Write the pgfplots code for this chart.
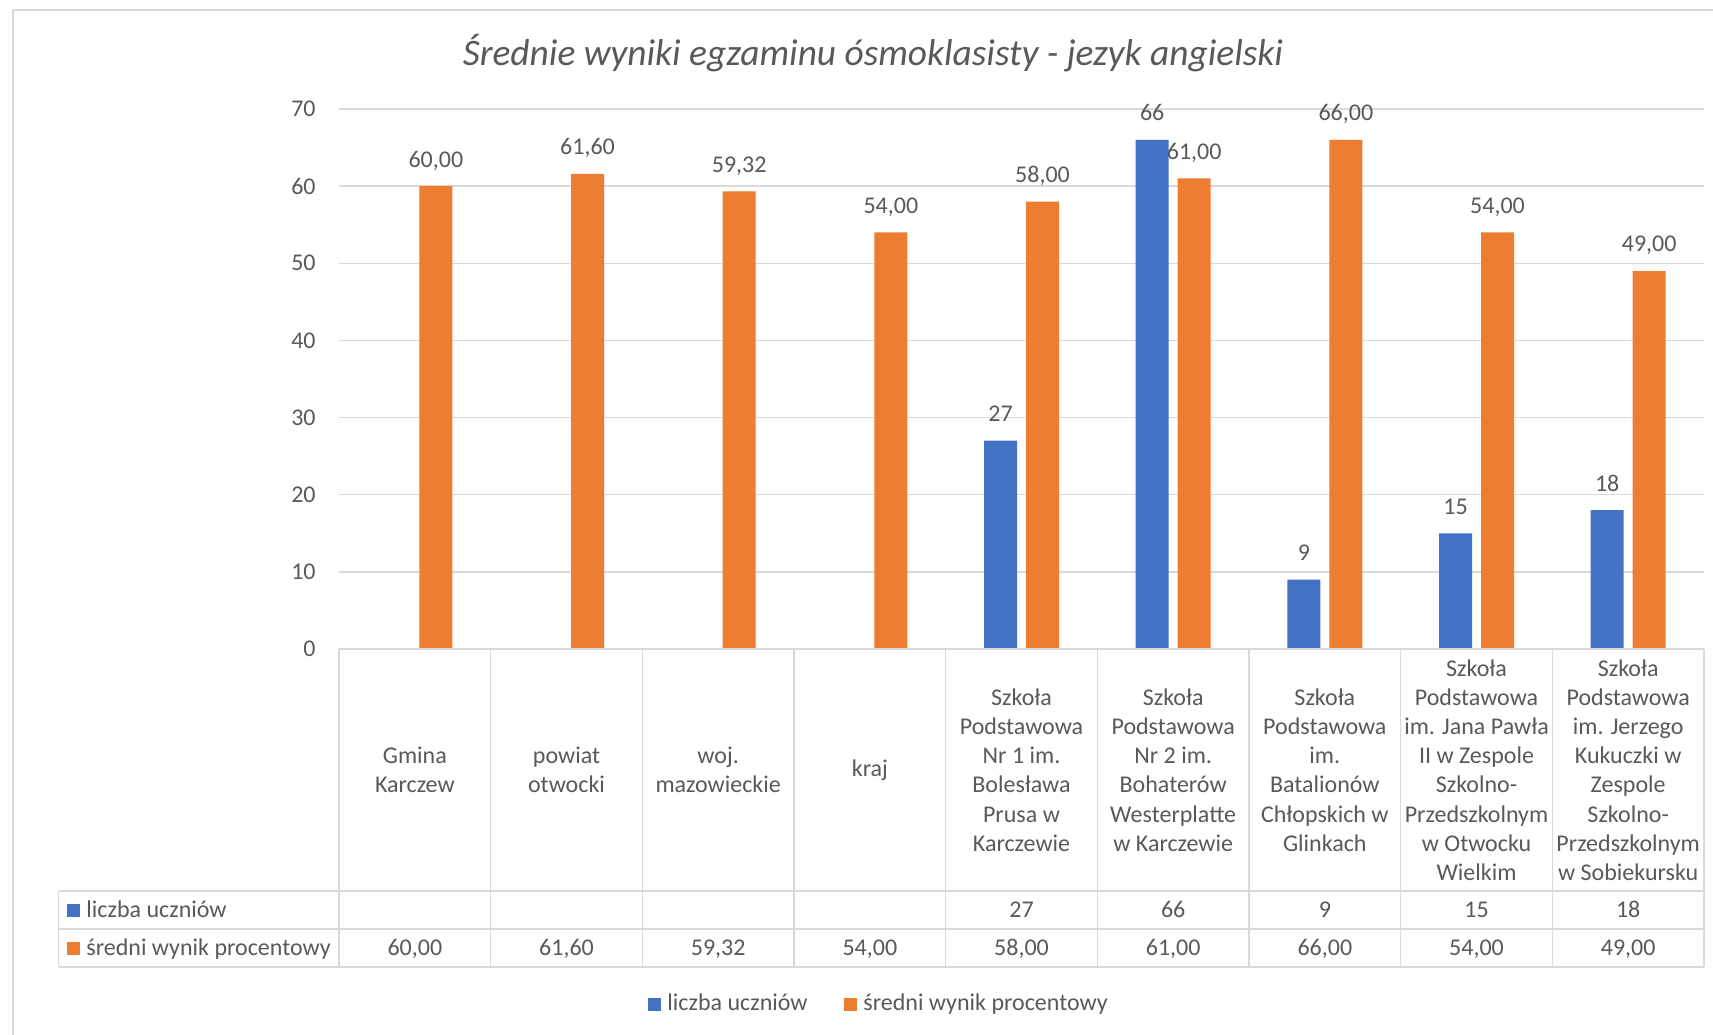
\documentclass[border=0pt]{standalone}
\usepackage{pgfplots}
\pgfplotsset{compat=1.18}
\usepackage{pgfplotstable}
\usepackage{fontspec}
\setmainfont{Carlito}
\definecolor{cblue}{HTML}{4472C4}
\definecolor{corange}{HTML}{ED7D31}
\definecolor{ctext}{HTML}{595959}
\definecolor{cgrid}{HTML}{D9D9D9}
\newcommand{\bodyfont}{\fontsize{12}{14.6}\selectfont}
\pgfplotstableread{
x y
0.5 60
1.5 61.6
2.5 59.32
3.5 54
4.5 58
5.5 61
6.5 66
7.5 54
8.5 49
}\sredni
\pgfplotstableread{
x y
4.5 27
5.5 66
6.5 9
7.5 15
8.5 18
}\liczba
\begin{document}
\begin{tikzpicture}[x=0.5pt,y=0.5pt]
\useasboundingbox (0,0) rectangle (1713,1034);
\fill[white] (0,0) rectangle (1713,1034);
\draw[cgrid,line width=1pt] (12.7,-10) -- (12.7,1023.7) -- (1725,1023.7);
\begin{axis}[
  at={(169.5pt,192.5pt)}, anchor=south west,
  scale only axis, width=682.5pt, height=270pt,
  xmin=0, xmax=9, ymin=0, ymax=70,
  enlargelimits=false, clip=false,
  axis line style={draw=none},
  major tick length=0pt,
  ytick={0,10,...,70},
  ymajorgrids, grid style={cgrid, line width=0.75pt},
  xtick={0.5,1.5,...,8.5},
  xticklabels={{Gmina\\Karczew},{powiat\\otwocki},{woj.\\mazowieckie},{kraj},
    {Szkoła\\Podstawowa\\Nr 1 im.\\Bolesława\\Prusa w\\Karczewie},
    {Szkoła\\Podstawowa\\Nr 2 im.\\Bohaterów\\Westerplatte\\w Karczewie},
    {Szkoła\\Podstawowa\\im.\\Batalionów\\Chłopskich w\\Glinkach},
    {Szkoła\\Podstawowa\\im. Jana Pawła\\II w Zespole\\Szkolno-\\Przedszkolnym\\w Otwocku\\Wielkim},
    {Szkoła\\Podstawowa\\im. Jerzego\\Kukuczki w\\Zespole\\Szkolno-\\Przedszkolnym\\w Sobiekursku}},
  tick label style={font=\bodyfont, text=ctext},
  yticklabel style={anchor=east, inner sep=0pt, xshift=-11.5pt},
  xticklabel style={anchor=center, align=center, inner sep=0pt, yshift=-60.5pt},
  /pgf/number format/assume math mode=true,
  ybar, bar width=16.5pt,
  every node near coord/.append style={font=\bodyfont, text=ctext, anchor=base, yshift=9.5pt, inner sep=0pt},
]
\addplot[draw=none, fill=cblue, bar shift=-10.5pt,
  nodes near coords={\pgfmathprintnumber[assume math mode=true]{\pgfplotspointmeta}}]
  table[x=x,y=y] {\liczba};
\addplot[draw=none, fill=corange, bar shift=10.5pt,
  nodes near coords={\pgfmathprintnumber[fixed,fixed zerofill,precision=2,use comma,assume math mode=true]{\pgfplotspointmeta}}]
  table[x=x,y=y] {\sredni};
\end{axis}
% data table grid
\begin{scope}[cgrid, line width=0.75pt]
\draw (339,1034-649) -- (1704,1034-649);
\foreach \yy in {891,929,967} \draw (58.6,1034-\yy) -- (1704,1034-\yy);
\draw (58.6,1034-891) -- (58.6,1034-967);
\foreach \i in {0,...,9} \draw ({339+\i*151.667},1034-649) -- ({339+\i*151.667},1034-967);
\end{scope}
% row headers
\fill[cblue] (67,1034-916.5) rectangle (80,1034-903.5);
\node[anchor=base west, inner sep=0pt, font=\bodyfont, text=ctext] at (86,1034-917.5) {liczba uczniów};
\fill[corange] (67,1034-954.5) rectangle (80,1034-941.5);
\node[anchor=base west, inner sep=0pt, font=\bodyfont, text=ctext] at (86,1034-955) {średni wynik procentowy};
% table values
\foreach \i/\v in {4/27,5/66,6/9,7/15,8/18}
  \node[anchor=base, inner sep=0pt, font=\bodyfont, text=ctext] at ({339+(\i+0.5)*151.667},1034-917.5) {\v};
\foreach \i/\v in {0/60,1/61.6,2/59.32,3/54,4/58,5/61,6/66,7/54,8/49}
  \node[anchor=base, inner sep=0pt, font=\bodyfont, text=ctext] at ({339+(\i+0.5)*151.667},1034-955)
  {\pgfmathprintnumber[fixed,fixed zerofill,precision=2,use comma,assume math mode=true]{\v}};
% legend
\fill[cblue] (648,1034-1010.5) rectangle (661,1034-997.5);
\node[anchor=base west, inner sep=0pt, font=\bodyfont, text=ctext] at (667,1034-1010.7) {liczba uczniów};
\fill[corange] (844,1034-1010.5) rectangle (857,1034-997.5);
\node[anchor=base west, inner sep=0pt, font=\bodyfont, text=ctext] at (863,1034-1010.7) {średni wynik procentowy};
% title
\node[font=\fontsize{18.7}{22}\selectfont\itshape, text=ctext] at (873,1034-53) {Średnie wyniki egzaminu ósmoklasisty - jezyk angielski};
\end{tikzpicture}
\end{document}
